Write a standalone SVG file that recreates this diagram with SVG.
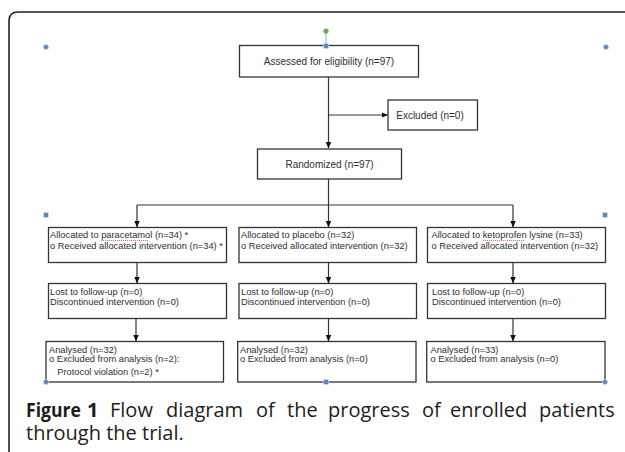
<svg xmlns="http://www.w3.org/2000/svg" width="625" height="452" viewBox="0 0 625 452">
<style>
.box{fill:#fff;stroke:#333;stroke-width:1.3}
.t{font-family:"Liberation Sans",Arial,sans-serif;font-size:9.3px;fill:#2e2e2e}
.tc{font-family:"Liberation Sans",Arial,sans-serif;font-size:10px;fill:#2e2e2e;text-anchor:middle}
.ln{fill:none;stroke:#333;stroke-width:1.2}
.cap{font-family:"Open Sans","Noto Sans",sans-serif;font-size:20px;fill:#1e1c1d;font-weight:500}
.capb{font-family:"Open Sans","Noto Sans",sans-serif;font-size:20px;fill:#1e1c1d;font-weight:bold}
.hc{fill:#5b86c0;stroke:#dde6f2;stroke-width:0.6}
.spell{fill:none;stroke:#d03030;stroke-width:0.7;stroke-dasharray:1 1}
</style>
<defs>
<marker id="arr" markerUnits="userSpaceOnUse" markerWidth="7" markerHeight="6" refX="6" refY="2.75" orient="auto">
<path d="M0,0 L6.5,2.75 L0,5.5 z" fill="#111"/>
</marker>
</defs>
<rect width="625" height="452" fill="#fff"/>
<path d="M9 452 V21 Q9 12 18 12 H625" fill="none" stroke="#222" stroke-width="1.6"/>

<g id="connectors">
<path class="ln" d="M328.5 77 V148" marker-end="url(#arr)"/>
<path class="ln" d="M328.5 115 H387.5" marker-end="url(#arr)"/>
<path class="ln" d="M328.5 179 V205 M137 205 H513"/>
<path class="ln" d="M137 205 V227" marker-end="url(#arr)"/>
<path class="ln" d="M328.5 205 V227" marker-end="url(#arr)"/>
<path class="ln" d="M513 205 V227" marker-end="url(#arr)"/>
<path class="ln" d="M137 262.5 V283" marker-end="url(#arr)"/>
<path class="ln" d="M328.5 262.5 V283" marker-end="url(#arr)"/>
<path class="ln" d="M513 262.5 V283" marker-end="url(#arr)"/>
<path class="ln" d="M136 318.5 V341" marker-end="url(#arr)"/>
<path class="ln" d="M328.5 318.5 V341" marker-end="url(#arr)"/>
<path class="ln" d="M513 318.5 V341" marker-end="url(#arr)"/>
</g>

<g id="assessed">
<rect class="box" x="239.5" y="45.5" width="179" height="31.5"/>
<text class="tc" x="329" y="64.5">Assessed for eligibility (n=97)</text>
</g>
<g id="excluded">
<rect class="box" x="388" y="100" width="89.5" height="30"/>
<text class="tc" x="430" y="118.5">Excluded (n=0)</text>
</g>
<g id="randomized">
<rect class="box" x="257.5" y="149" width="144" height="30"/>
<text class="tc" x="329.5" y="167.5">Randomized (n=97)</text>
</g>

<g id="alloc-paracetamol">
<rect class="box" x="48.5" y="227.5" width="178" height="35"/>
<text class="t" x="50" y="238">Allocated to paracetamol (n=34) *</text>
<text class="t" x="50" y="248.5">o Received allocated intervention (n=34) *</text>
<path class="spell" d="M101 240.5 H149"/>
</g>
<g id="alloc-placebo">
<rect class="box" x="239" y="227.5" width="177.5" height="35"/>
<text class="t" x="241" y="238">Allocated to placebo (n=32)</text>
<text class="t" x="241" y="248.5">o Received allocated intervention (n=32)</text>
</g>
<g id="alloc-ketoprofen">
<rect class="box" x="427.5" y="227.5" width="178" height="35"/>
<text class="t" x="431.5" y="238">Allocated to ketoprofen lysine (n=33)</text>
<text class="t" x="431.5" y="248.5">o Received allocated intervention (n=32)</text>
<path class="spell" d="M483 240.5 H525"/>
</g>

<g id="followup-paracetamol">
<rect class="box" x="48.5" y="283.5" width="178" height="35"/>
<text class="t" x="50" y="295">Lost to follow-up (n=0)</text>
<text class="t" x="50" y="305">Discontinued intervention (n=0)</text>
</g>
<g id="followup-placebo">
<rect class="box" x="239" y="283.5" width="177.5" height="35"/>
<text class="t" x="241" y="295">Lost to follow-up (n=0)</text>
<text class="t" x="241" y="305">Discontinued intervention (n=0)</text>
</g>
<g id="followup-ketoprofen">
<rect class="box" x="427.5" y="283.5" width="178" height="35"/>
<text class="t" x="432" y="295">Lost to follow-up (n=0)</text>
<text class="t" x="432" y="305">Discontinued intervention (n=0)</text>
</g>

<g id="analysed-paracetamol">
<rect class="box" x="46" y="341.5" width="177.5" height="40.5"/>
<text class="t" x="49" y="352.5">Analysed (n=32)</text>
<text class="t" x="49" y="361.5">o Excluded from analysis (n=2):</text>
<text class="t" x="57.3" y="375">Protocol violation (n=2) *</text>
</g>
<g id="analysed-placebo">
<rect class="box" x="237.7" y="341.5" width="178.3" height="40.5"/>
<text class="t" x="240" y="352.5">Analysed (n=32)</text>
<text class="t" x="240" y="361.5">o Excluded from analysis (n=0)</text>
</g>
<g id="analysed-ketoprofen">
<rect class="box" x="426.7" y="341.5" width="178.3" height="40.5"/>
<text class="t" x="430.5" y="352.5">Analysed (n=33)</text>
<text class="t" x="430.5" y="361.5">o Excluded from analysis (n=0)</text>
</g>

<g id="handles">
<line x1="326" y1="31" x2="326" y2="46" stroke="#6d8fb8" stroke-width="0.8"/>
<circle cx="326" cy="31" r="2.6" fill="#6aab5a"/>
<circle class="hc" cx="46" cy="47" r="2.6"/>
<circle class="hc" cx="606" cy="47" r="2.6"/>
<circle class="hc" cx="46" cy="382" r="2.6"/>
<circle class="hc" cx="605" cy="382" r="2.6"/>
<rect class="hc" x="323.5" y="43.5" width="5" height="5"/>
<rect class="hc" x="43.5" y="212.5" width="5" height="5"/>
<rect class="hc" x="602.5" y="212.5" width="5" height="5"/>
<rect class="hc" x="323.5" y="379.5" width="5" height="5"/>
</g>

<g id="caption">
<text class="capb" x="26" y="416.7" textLength="55" lengthAdjust="spacingAndGlyphs">Figure</text>
<text class="capb" x="87" y="416.7">1</text>
<text class="cap" y="416.7"><tspan x="110">Flow</tspan><tspan x="166">diagram</tspan><tspan x="256">of</tspan><tspan x="287">the</tspan><tspan x="328">progress</tspan><tspan x="422">of</tspan><tspan x="450">enrolled</tspan><tspan x="539">patients</tspan></text>
<text class="cap" x="26" y="440">through the trial.</text>
</g>
</svg>
